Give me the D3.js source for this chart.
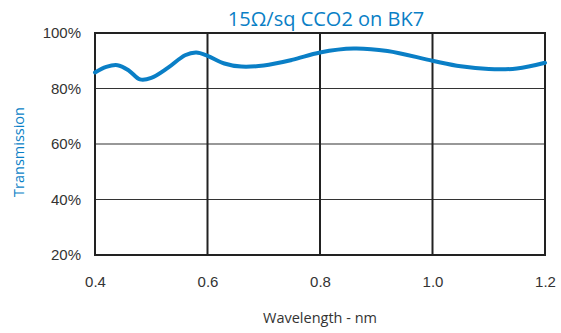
<!DOCTYPE html>
<html lang="en">
<head>
<meta charset="UTF-8">
<title>15Ω/sq CCO2 on BK7</title>
<script src="https://d3js.org/d3.v7.min.js"></script>
<style>
  body { margin: 0; background: #fff; }
  svg { font-family: "Open Sans", sans-serif; }
  .tick text { fill: #333; font-size: 15px; }
</style>
</head>
<body>
<div id="chart"></div>
<script>
// transmission curve
const wavelength = [0.40, 0.42, 0.44, 0.46, 0.48, 0.50, 0.53, 0.56, 0.58, 0.60, 0.63, 0.66, 0.70, 0.75, 0.80, 0.86, 0.92, 1.00, 1.05, 1.10, 1.15, 1.20];
const transmission = [85.8, 87.8, 88.4, 86.5, 83.3, 83.8, 87.5, 92.0, 93.0, 91.8, 89.0, 87.9, 88.3, 90.3, 93.0, 94.4, 93.5, 90.0, 88.0, 87.0, 87.2, 89.3];
const xTicks = [0.4, 0.6, 0.8, 1.0, 1.2];
const yTicks = [20, 40, 60, 80, 100];

const width = 561, height = 333;
const margin = {top: 33, right: 16, bottom: 78, left: 95};
const blue = "#0a7fc6";

const svg = d3.select("#chart").append("svg")
    .attr("width", width)
    .attr("height", height);

const x = d3.scaleLinear().domain([0.4, 1.2]).range([margin.left, width - margin.right]);
const y = d3.scaleLinear().domain([20, 100]).range([height - margin.bottom, margin.top]);

// grid
svg.append("g")
    .selectAll("line")
    .data(yTicks.slice(1, -1))
    .join("line")
    .attr("x1", x(0.4)).attr("x2", x(1.2))
    .attr("y1", d => y(d)).attr("y2", d => y(d))
    .attr("stroke", "#333").attr("stroke-width", 1.2);

svg.append("g")
    .selectAll("line")
    .data(xTicks.slice(1, -1))
    .join("line")
    .attr("x1", d => x(d)).attr("x2", d => x(d))
    .attr("y1", y(20)).attr("y2", y(100))
    .attr("stroke", "#222").attr("stroke-width", 2);

svg.append("rect")
    .attr("x", x(0.4)).attr("y", y(100))
    .attr("width", x(1.2) - x(0.4)).attr("height", y(20) - y(100))
    .attr("fill", "none").attr("stroke", "#222").attr("stroke-width", 2);

// axes (labels only)
svg.append("g")
    .attr("transform", "translate(0," + y(20) + ")")
    .call(d3.axisBottom(x).tickValues(xTicks).tickFormat(d3.format(".1f")).tickSize(0).tickPadding(21))
    .call(g => g.select(".domain").remove());

svg.append("g")
    .attr("transform", "translate(" + (x(0.4) - 1) + ",0)")
    .call(d3.axisLeft(y).tickValues(yTicks).tickFormat(d => d + "%").tickSize(0).tickPadding(13))
    .call(g => g.select(".domain").remove());

// curve
const pts = wavelength.map((w, i) => [w, transmission[i]]);
svg.append("path")
    .datum(pts)
    .attr("fill", "none")
    .attr("stroke", blue)
    .attr("stroke-width", 4)
    .attr("stroke-linecap", "round")
    .attr("d", d3.line().x(d => x(d[0])).y(d => y(d[1])).curve(d3.curveCatmullRom.alpha(0.5)));

// titles
svg.append("text")
    .attr("x", 326).attr("y", 26)
    .attr("text-anchor", "middle")
    .attr("fill", blue)
    .attr("font-size", 20)
    .text("15Ω/sq CCO2 on BK7");

svg.append("text")
    .attr("x", 320).attr("y", 323)
    .attr("text-anchor", "middle")
    .attr("fill", "#333")
    .attr("font-size", 14.5)
    .text("Wavelength - nm");

svg.append("text")
    .attr("transform", "translate(24,152) rotate(-90)")
    .attr("text-anchor", "middle")
    .attr("fill", blue)
    .attr("font-size", 14.5)
    .text("Transmission");
</script>
</body>
</html>
